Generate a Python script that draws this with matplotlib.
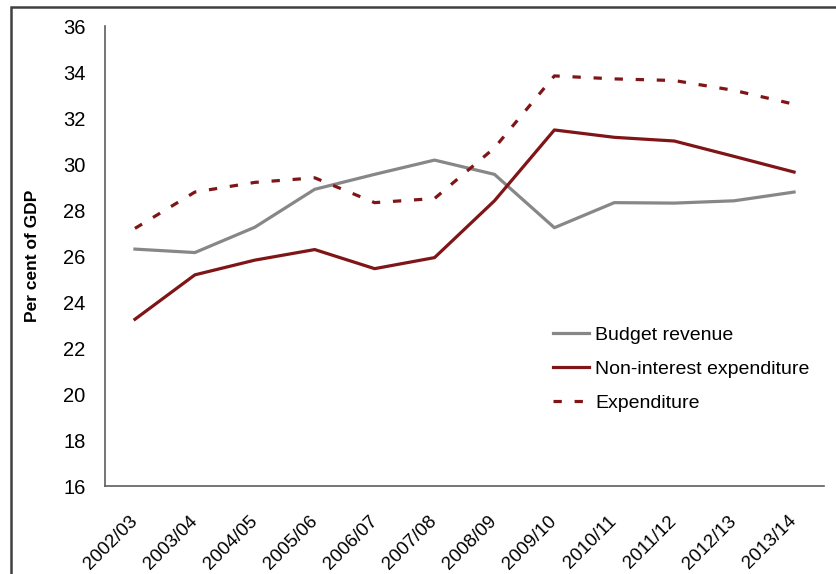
import numpy as np
import matplotlib.pyplot as plt
from matplotlib.patches import Rectangle
from matplotlib.transforms import ScaledTranslation

years = ['2002/03', '2003/04', '2004/05', '2005/06', '2006/07', '2007/08',
         '2008/09', '2009/10', '2010/11', '2011/12', '2012/13', '2013/14']
revenue = [26.3, 26.15, 27.25, 28.9, 29.55, 30.17, 29.55, 27.23, 28.32, 28.3, 28.4, 28.78]
non_interest = [23.25, 25.18, 25.82, 26.28, 25.45, 25.93, 28.4, 31.48, 31.16, 31.0, 30.33, 29.65]
expenditure = [27.2, 28.78, 29.2, 29.4, 28.32, 28.5, 30.7, 33.83, 33.7, 33.63, 33.2, 32.6]

plt.rcParams['font.family'] = ['Liberation Sans Narrow', 'Liberation Sans', 'DejaVu Sans']

fig = plt.figure(figsize=(8.37, 5.74), dpi=100)
ax = fig.add_axes([105 / 837, 88 / 574, 719 / 837, 460 / 574])

red = '#7f1517'
grey = '#878787'
x = np.arange(len(years))
ax.plot(x, revenue, color=grey, lw=2.3, label='Budget revenue')
ax.plot(x, non_interest, color=red, lw=2.3, label='Non-interest expenditure')
ax.plot(x, expenditure, color=red, lw=2.3, dashes=(2.6, 4.0), label='Expenditure')

ax.set_xlim(-0.5, len(years) - 0.5)
ax.set_ylim(16, 36)
ax.set_yticks(range(16, 37, 2))
ax.set_xticks(x)
ax.set_xticklabels(years, rotation=45, ha='right', rotation_mode='anchor')
ax.tick_params(length=0, labelsize=14.5)
ax.tick_params(axis='y', pad=14)
ax.tick_params(axis='x', pad=19)
shift = ScaledTranslation(-6 / 100, 0, fig.dpi_scale_trans)
for lbl in ax.get_xticklabels():
    lbl.set_fontsize(13.5)
    lbl.set_transform(lbl.get_transform() + shift)

for s in ['top', 'right']:
    ax.spines[s].set_visible(False)
for s in ['left', 'bottom']:
    ax.spines[s].set_color('#5e5e5e')
    ax.spines[s].set_linewidth(1.2)

ax.set_ylabel('Per cent of GDP', fontsize=12.5, fontweight='bold')
ax.yaxis.set_label_coords(-0.09, 0.5)

leg = ax.legend(loc='upper left', bbox_to_anchor=(0.599, 0.386), frameon=False,
                fontsize=14, handlelength=1.85, handletextpad=0.3, labelspacing=0.85)

fig.patches.append(Rectangle((11 / 837, -0.1), 1.2, 1.1 - 7 / 574,
                             transform=fig.transFigure, fill=False,
                             edgecolor='#404040', lw=1.8))

fig.savefig('out.png', dpi=100)
